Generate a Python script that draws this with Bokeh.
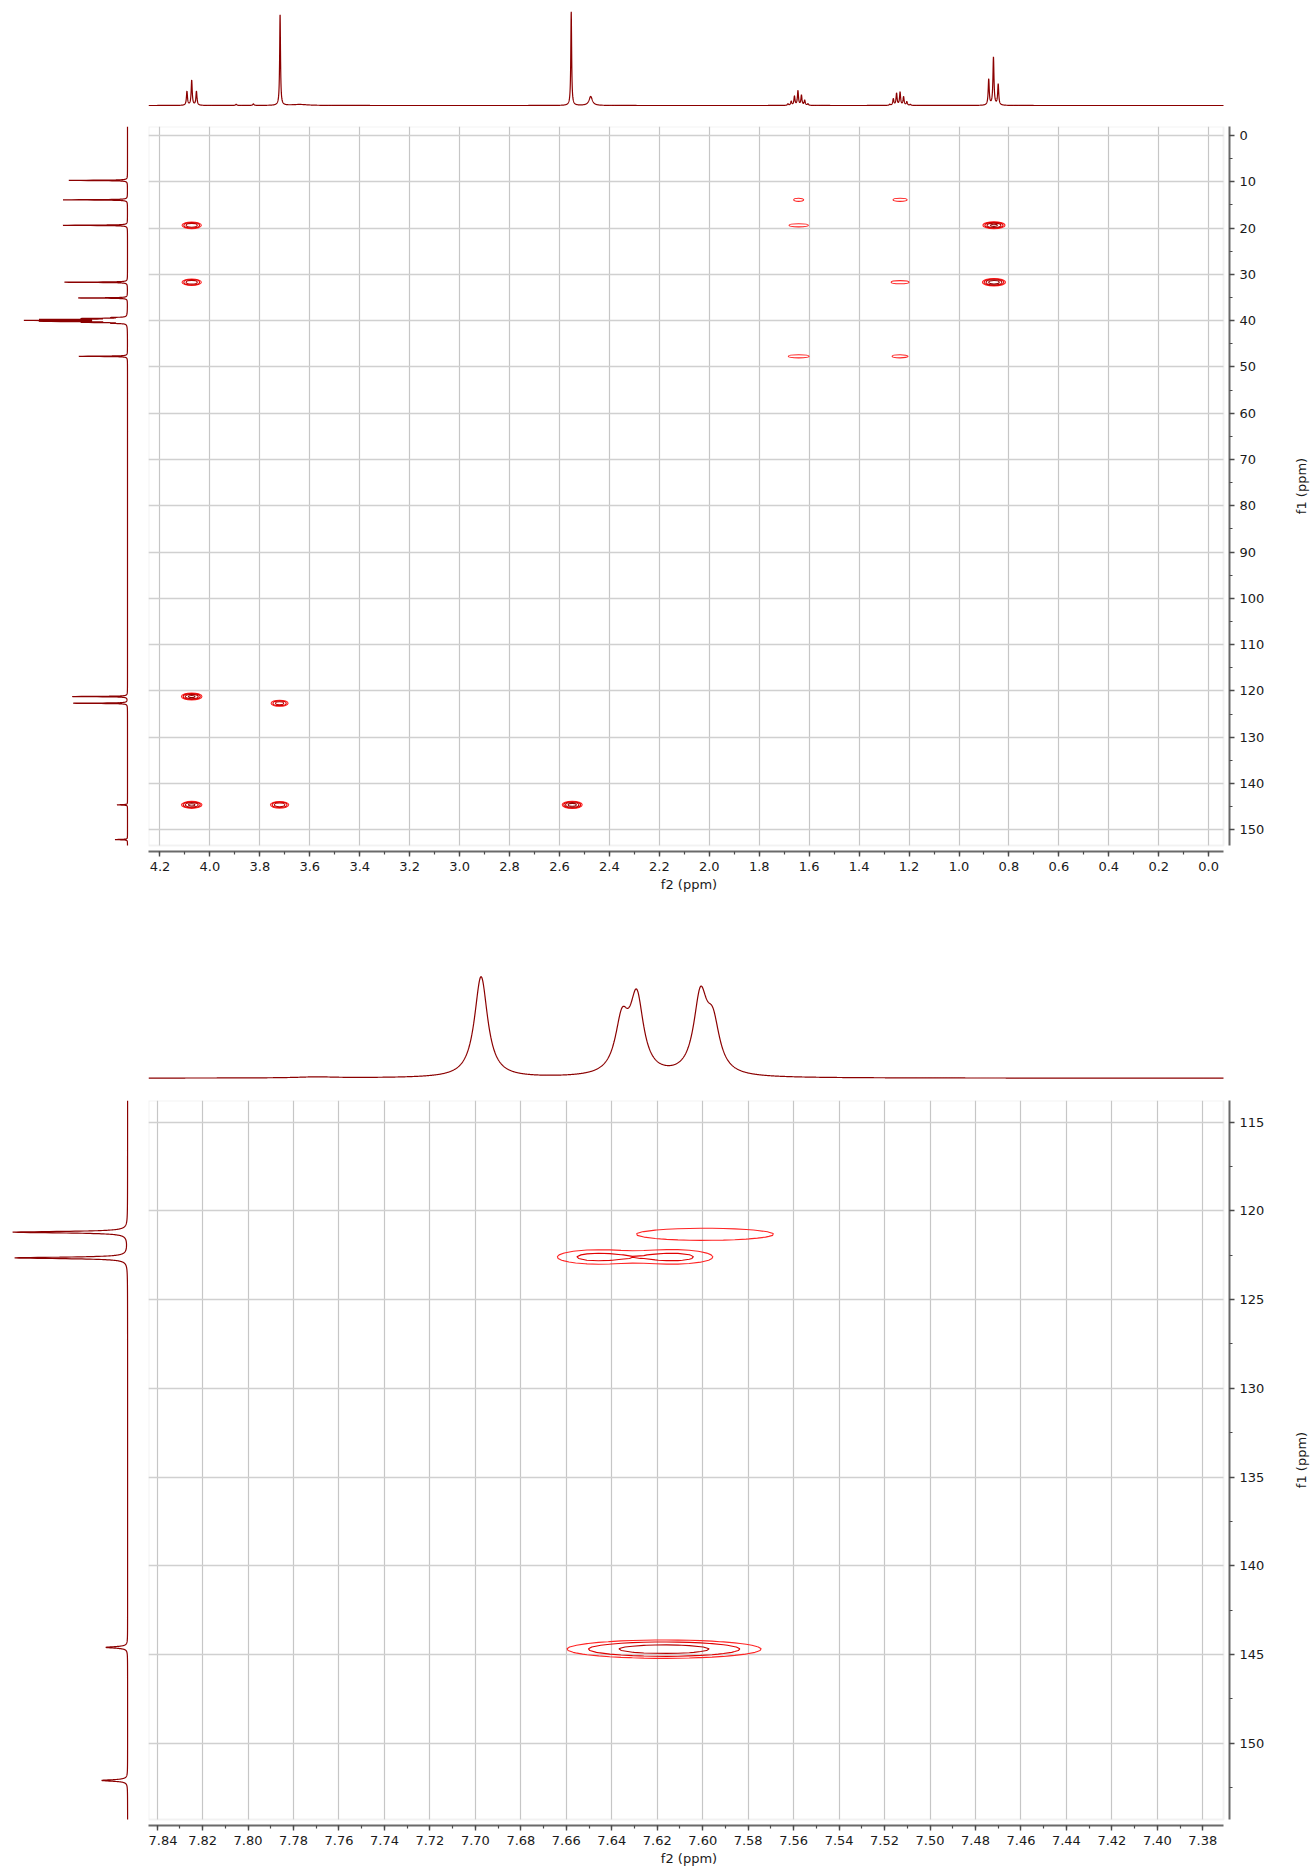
import math

import numpy as np
from bokeh.core.properties import value
from bokeh.embed import file_html
from bokeh.layouts import column, row
from bokeh.models import (BoxAnnotation, NumeralTickFormatter, Range1d,
                          SingleIntervalTicker, Spacer)
from bokeh.plotting import figure
from bokeh.resources import INLINE

# ---------------------------------------------------------------- data ----
# 1H trace, aliphatic window: line position (ppm), height, half width (ppm)
H_ALI_PPM = [4.092, 4.073, 4.054, 3.895, 3.826, 3.719, 3.640, 2.553, 2.475,
             1.685, 1.672, 1.659, 1.645, 1.631, 1.618, 1.605,
             1.277, 1.263, 1.250, 1.236, 1.222, 1.209, 1.195,
             0.881, 0.862, 0.843]
H_ALI_INT = [14, 25, 14, 1.2, 1.5, 91.5, 1.0, 94, 9,
             1.5, 4, 9, 14.5, 10, 5, 1.5,
             1, 6.5, 12, 13, 8.5, 3.5, 1,
             26, 48, 21]
H_ALI_HW = [0.0025, 0.0025, 0.0025, 0.003, 0.003, 0.002, 0.04, 0.002, 0.008,
            0.0025, 0.0025, 0.0025, 0.0025, 0.0025, 0.0025, 0.0025,
            0.0025, 0.0025, 0.0025, 0.0025, 0.0025, 0.0025, 0.0025,
            0.0025, 0.0025, 0.0025]

# 1H trace, aromatic window
H_ARO_PPM = [7.6975, 7.6355, 7.6290, 7.6010, 7.5955, 7.770]
H_ARO_INT = [101, 51.4, 74.9, 75.8, 46.3, 1.0]
H_ARO_HW = [0.0035, 0.0036, 0.0036, 0.0036, 0.0036, 0.01]

# 13C trace: compound lines and the DMSO-d6 septet
C_PPM = [9.7, 13.9, 19.4, 31.7, 35.1, 47.7, 121.2, 122.65, 144.6, 152.1]
C_INT = [59, 64.5, 65, 63.5, 49.5, 49, 55.5, 54.5, 10.5, 12.5]
C_SOLV_PPM = [39.32, 39.53, 39.74, 39.95, 40.16, 40.37, 40.58]
C_SOLV_INT = [13, 40, 80, 94, 80, 40, 13]
C_HW = 0.05

# HMBC cross peaks, aliphatic window: f2, f1, amplitude, f2 width (sigma)
XP_ALI_F2 = [4.073, 4.073, 4.073, 3.721, 4.073, 3.721, 2.549,
             1.642, 1.236, 1.642, 0.860, 1.236, 0.860, 1.642, 1.236]
XP_ALI_F1 = [19.4, 31.7, 121.2, 122.65, 144.6, 144.6, 144.6,
             13.9, 13.9, 19.4, 19.4, 31.7, 31.7, 47.7, 47.7]
XP_ALI_AMP = [8, 8, 10, 6, 10, 8, 12,
              1.6, 1.6, 1.6, 10, 1.6, 14, 1.6, 1.6]
XP_ALI_SX = [0.019, 0.019, 0.0192, 0.018, 0.0192, 0.018, 0.018,
             0.0206, 0.029, 0.040, 0.0205, 0.037, 0.020, 0.043, 0.033]
XP_ALI_SY = 0.35

# HMBC cross peaks, aromatic window
XP_ARO_F2 = [7.599, 7.6467, 7.6127, 7.617]
XP_ARO_F1 = [121.32, 122.6, 122.6, 144.7]
XP_ARO_AMP = [1.6, 2.55, 2.55, 5.9]
XP_ARO_SX = [0.0312, 0.0125, 0.0125, 0.0226]
XP_ARO_SY = [0.35, 0.29, 0.29, 0.273]

CONTOUR_LEVELS = [1.0, 2.0, 4.0, 8.0]

# ------------------------------------------------------------- styling ----
FONT = "DejaVu Sans"
TRACE = "#8b0000"
RING_COLORS = ["#ff2424", "#e00000", "#b80000", "#900000"]

PAGE_W = 1313
LEFT_W = 148          # width of the 13C strip
TITLE_W = 24          # strip holding the rotated f1 title
FRAME_W = 1081        # plot frame incl. gap before the axis
BOX_W = 1075          # drawn spectrum box
FRAME_H = 725
BOX_H = 719

# spectrum windows (ppm): f2 left->right, f1 top->bottom
ALI_BOX_X = (4.246, -0.0593)
ALI_BOX_Y = (-1.944, 153.38)
ARO_BOX_X = (7.8438, 7.3709)
ARO_BOX_Y = (113.78, 154.30)


def lorentz(axis, centers, heights, widths):
    total = np.zeros_like(axis)
    for c, h, w in zip(centers, heights, widths):
        total += h / (1.0 + ((axis - c) / w) ** 2)
    return total


def stretch(start, end, box_px, frame_px):
    return start + (end - start) * frame_px / box_px


def c13_trace(ppm):
    t = lorentz(ppm, C_PPM, C_INT, [C_HW] * len(C_PPM))
    t += lorentz(ppm, C_SOLV_PPM, C_SOLV_INT, [C_HW] * len(C_SOLV_PPM))
    return t


def blank_fig(width, height, xr, yr, top=0, bottom=0):
    p = figure(width=width, height=height, x_range=xr, y_range=yr,
               x_axis_location=None, y_axis_location=None,
               toolbar_location=None, output_backend="svg",
               min_border_left=0, min_border_right=0,
               min_border_top=top, min_border_bottom=bottom)
    p.outline_line_color = None
    p.grid.grid_line_color = None
    p.background_fill_color = "white"
    p.border_fill_color = "white"
    return p


def title_strip(yr, box_y, height, bottom):
    """Narrow strip right of the axis with the rotated f1 title."""
    p = blank_fig(TITLE_W, height, Range1d(start=0, end=1), yr,
                  top=8, bottom=bottom)
    p.text(x=[0.5], y=[0.5 * (box_y[0] + box_y[1])], text=["f1 (ppm)"],
           angle=math.pi / 2, text_align="center", text_baseline="middle",
           text_font=value(FONT), text_font_size=value("13px"),
           text_color="#1a1a1a")
    return p


def main_fig(xr, yr, box_x, box_y, x_step, x_fmt, y_step, height, bottom):
    p = figure(width=PAGE_W - LEFT_W - TITLE_W, height=height,
               x_range=xr, y_range=yr,
               y_axis_location="right", toolbar_location=None,
               output_backend="svg",
               min_border_left=0,
               min_border_right=PAGE_W - LEFT_W - TITLE_W - FRAME_W,
               min_border_top=8, min_border_bottom=bottom)
    p.outline_line_color = None
    p.background_fill_color = "white"
    p.border_fill_color = "white"

    xa, ya = p.xaxis[0], p.yaxis[0]
    xa.ticker = SingleIntervalTicker(interval=x_step, num_minor_ticks=2)
    ya.ticker = SingleIntervalTicker(interval=y_step, num_minor_ticks=2)
    xa.formatter = NumeralTickFormatter(format=x_fmt)
    ya.formatter = NumeralTickFormatter(format="0")
    for ax in (xa, ya):
        ax.axis_line_color = "#6a6a6a"
        ax.axis_line_width = 2
        ax.major_tick_line_color = "#4a4a4a"
        ax.major_tick_line_width = 1.4
        ax.major_tick_out = 5
        ax.major_tick_in = 0
        ax.minor_tick_line_color = "#4a4a4a"
        ax.minor_tick_line_width = 1.2
        ax.minor_tick_out = 3
        ax.minor_tick_in = 0
        ax.major_label_text_font = FONT
        ax.major_label_text_font_size = "13px"
        ax.major_label_text_color = "#1a1a1a"
        ax.major_label_standoff = 5
        ax.axis_label_text_font = FONT
        ax.axis_label_text_font_size = "13px"
        ax.axis_label_text_font_style = "normal"
        ax.axis_label_text_color = "#1a1a1a"
    xa.axis_label = "f2 (ppm)"
    xa.axis_label_standoff = 3
    xa.bounds = (min(box_x), max(box_x))
    ya.bounds = (min(box_y), max(box_y))

    p.xgrid.grid_line_color = "#c6c6c6"
    p.xgrid.grid_line_width = 1.2
    p.ygrid.grid_line_color = "#d0d0d0"
    p.ygrid.grid_line_width = 1.6

    # keep the strip between spectrum box and axes blank
    p.add_layout(BoxAnnotation(left=box_x[1], fill_color="white",
                               fill_alpha=1.0, line_color=None,
                               level="underlay"))
    p.add_layout(BoxAnnotation(top=box_y[1], fill_color="white",
                               fill_alpha=1.0, line_color=None,
                               level="underlay"))
    p.add_layout(BoxAnnotation(left=min(box_x), right=max(box_x),
                               bottom=min(box_y), top=max(box_y),
                               fill_color=None, line_color="#d4d4d4",
                               line_width=2))
    return p


# =========================================================== upper panel ==
ali_xr = Range1d(start=ALI_BOX_X[0],
                 end=stretch(ALI_BOX_X[0], ALI_BOX_X[1], BOX_W, FRAME_W))
ali_yr = Range1d(start=stretch(ALI_BOX_Y[0], ALI_BOX_Y[1], BOX_H, FRAME_H),
                 end=ALI_BOX_Y[0])
ALI_MAIN_H = 8 + FRAME_H + 50

ali_top = blank_fig(FRAME_W, 118, ali_xr, Range1d(start=-13, end=105))
h_axis = np.linspace(ALI_BOX_X[0], ALI_BOX_X[1], 9000)
ali_top.line(h_axis, lorentz(h_axis, H_ALI_PPM, H_ALI_INT, H_ALI_HW),
             line_color=TRACE, line_width=1.2)

ali_left = blank_fig(LEFT_W, ALI_MAIN_H, Range1d(start=127, end=-21), ali_yr,
                     top=8, bottom=50)
c_axis = np.linspace(ALI_BOX_Y[0], ALI_BOX_Y[1], 16000)
ali_left.line(c13_trace(c_axis), c_axis, line_color=TRACE, line_width=1.2)

ali_main = main_fig(ali_xr, ali_yr, ALI_BOX_X, ALI_BOX_Y, 0.2, "0.0", 10,
                    ALI_MAIN_H, 50)
ali_title = title_strip(ali_yr, ALI_BOX_Y, ALI_MAIN_H, 50)

# contour rings of each cross peak (gaussian model, doubling levels)
rx, ry, rw, rh, rc = [], [], [], [], []
for f2, f1, amp, sx in zip(XP_ALI_F2, XP_ALI_F1, XP_ALI_AMP, XP_ALI_SX):
    for k, lev in enumerate(CONTOUR_LEVELS):
        if amp > lev:
            r = math.sqrt(2.0 * math.log(amp / lev))
            rx.append(f2)
            ry.append(f1)
            rw.append(2 * sx * r)
            rh.append(2 * XP_ALI_SY * r)
            rc.append(RING_COLORS[k])
ali_main.ellipse(x=rx, y=ry, width=rw, height=rh, fill_color=None,
                 line_color=rc, line_width=1.1)

# =========================================================== lower panel ==
aro_xr = Range1d(start=ARO_BOX_X[0],
                 end=stretch(ARO_BOX_X[0], ARO_BOX_X[1], BOX_W, FRAME_W))
aro_yr = Range1d(start=stretch(ARO_BOX_Y[0], ARO_BOX_Y[1], BOX_H, FRAME_H),
                 end=ARO_BOX_Y[0])
ARO_MAIN_H = 8 + FRAME_H + 47

aro_top = blank_fig(FRAME_W, 137, aro_xr, Range1d(start=-14.3, end=122.7))
ha_axis = np.linspace(ARO_BOX_X[0], ARO_BOX_X[1], 3000)
aro_top.line(ha_axis, lorentz(ha_axis, H_ARO_PPM, H_ARO_INT, H_ARO_HW),
             line_color=TRACE, line_width=1.2)

aro_left = blank_fig(LEFT_W, ARO_MAIN_H, Range1d(start=61.4, end=-10.1),
                     aro_yr, top=8, bottom=47)
ca_axis = np.linspace(ARO_BOX_Y[0], ARO_BOX_Y[1], 8000)
aro_left.line(c13_trace(ca_axis), ca_axis, line_color=TRACE, line_width=1.2)

aro_main = main_fig(aro_xr, aro_yr, ARO_BOX_X, ARO_BOX_Y, 0.02, "0.00", 5,
                    ARO_MAIN_H, 47)
aro_title = title_strip(aro_yr, ARO_BOX_Y, ARO_MAIN_H, 47)

gx = np.arange(ARO_BOX_X[1] - 0.01, ARO_BOX_X[0] + 0.01, 0.005)
gy = np.arange(ARO_BOX_Y[0] - 0.5, ARO_BOX_Y[1] + 0.5, 0.1)
GX, GY = np.meshgrid(gx, gy)
Z = np.zeros_like(GX)
for f2, f1, amp, sx, sy in zip(XP_ARO_F2, XP_ARO_F1, XP_ARO_AMP,
                               XP_ARO_SX, XP_ARO_SY):
    Z += amp * np.exp(-0.5 * (((GX - f2) / sx) ** 2 + ((GY - f1) / sy) ** 2))
aro_main.contour(x=gx, y=gy, z=Z, levels=CONTOUR_LEVELS[:3],
                 line_color=RING_COLORS[:3], line_width=1.1)

layout = column(
    row(Spacer(width=LEFT_W, height=118), ali_top),
    row(ali_left, ali_main, ali_title),
    Spacer(width=PAGE_W, height=54),
    row(Spacer(width=LEFT_W, height=137), aro_top),
    row(aro_left, aro_main, aro_title),
)

open("out.html", "w").write(file_html(layout, INLINE, title="HMBC"))
